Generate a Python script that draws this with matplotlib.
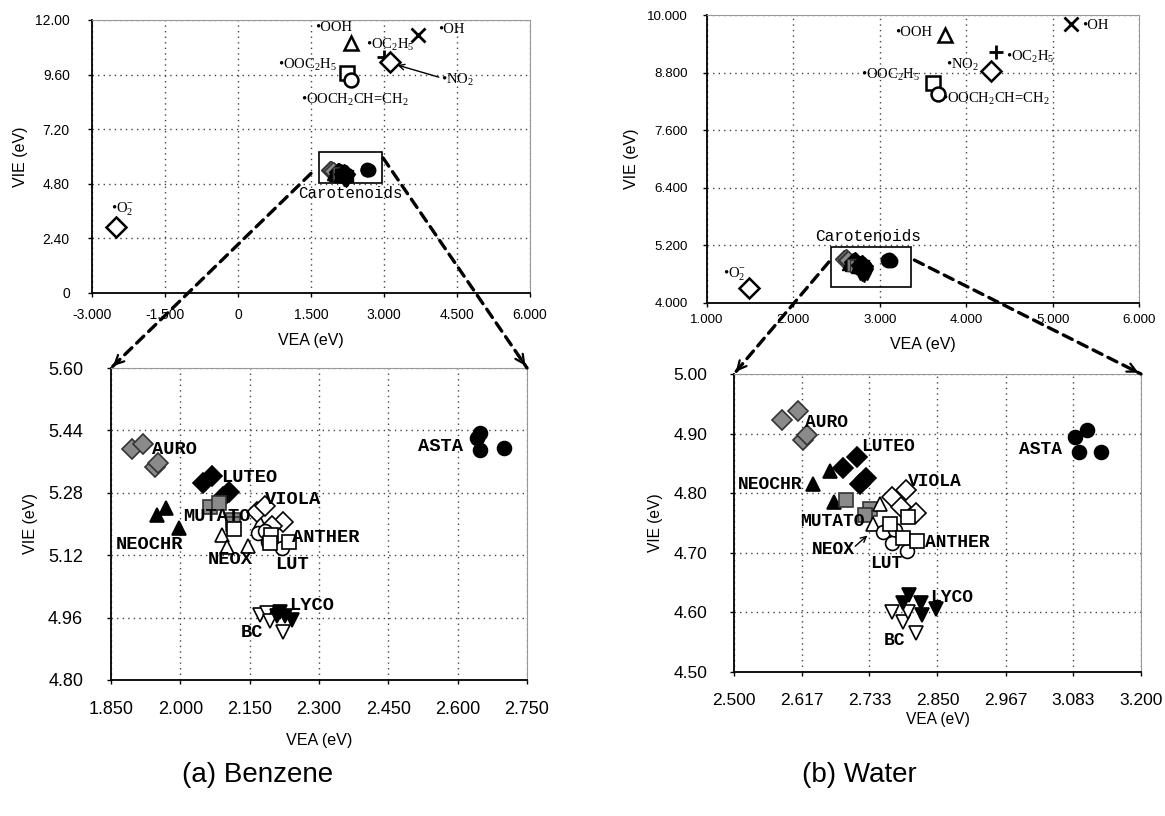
import numpy as np
import matplotlib
matplotlib.use("Agg")
import matplotlib.pyplot as plt
from matplotlib.patches import ConnectionPatch, FancyArrowPatch, Rectangle

plt.rcParams['font.family'] = ['Liberation Sans', 'DejaVu Sans']
plt.rcParams['mathtext.fontset'] = 'custom'
plt.rcParams['mathtext.rm'] = 'Liberation Serif'
plt.rcParams['mathtext.it'] = 'Liberation Serif:italic'
plt.rcParams['mathtext.bf'] = 'Liberation Serif:bold'

# ---- free radicals ----
rad_labels = ["•O$_2^{-}$", "•OOH", "•OH", "•OC$_2$H$_5$", "•NO$_2$",
              "•OOC$_2$H$_5$", "•OOCH$_2$CH=CH$_2$"]
rad_vea_benz = [-2.50, 2.33, 3.70, 2.99, 3.12, 2.24, 2.32]
rad_vie_benz = [2.90, 10.97, 11.34, 10.35, 10.16, 9.67, 9.35]
rad_vea_water = [1.49, 3.76, 5.21, 4.34, 4.29, 3.62, 3.67]
rad_vie_water = [4.31, 9.58, 9.81, 9.22, 8.84, 8.58, 8.35]

# ---- carotenoids ----
carot_names = ["ASTA", "AURO", "LUTEO", "NEOCHR", "MUTATO", "NEOX",
               "VIOLA", "LUT", "ANTHER", "BC", "LYCO"]
benz_vea = [[2.649, 2.642, 2.648, 2.700],
            [1.895, 1.920, 1.945, 1.952],
            [2.050, 2.068, 2.093, 2.105],
            [1.949, 1.969, 1.998],
            [2.064, 2.084, 2.113, 2.113],
            [2.090, 2.100, 2.147, 2.173],
            [2.165, 2.183, 2.222, 2.198],
            [2.169, 2.183, 2.190, 2.219],
            [2.115, 2.196, 2.193, 2.234],
            [2.173, 2.188, 2.193, 2.223],
            [2.216, 2.227, 2.241, 2.209]]
benz_vie = [[5.433, 5.420, 5.390, 5.395],
            [5.392, 5.405, 5.346, 5.356],
            [5.305, 5.322, 5.270, 5.283],
            [5.224, 5.241, 5.189],
            [5.243, 5.255, 5.209, 5.200],
            [5.172, 5.142, 5.144, 5.202],
            [5.232, 5.247, 5.204, 5.194],
            [5.178, 5.181, 5.155, 5.138],
            [5.187, 5.172, 5.151, 5.153],
            [4.967, 4.971, 4.950, 4.924],
            [4.975, 4.963, 4.954, 4.963]]
water_vea = [[3.087, 3.107, 3.094, 3.131],
             [2.583, 2.610, 2.618, 2.626],
             [2.688, 2.711, 2.727, 2.716],
             [2.636, 2.666, 2.672],
             [2.693, 2.734, 2.726],
             [2.752, 2.739, 2.771],
             [2.771, 2.796, 2.787, 2.813],
             [2.757, 2.777, 2.772, 2.798],
             [2.769, 2.800, 2.791, 2.815],
             [2.771, 2.791, 2.813, 2.800],
             [2.801, 2.822, 2.848, 2.824, 2.791]]
water_vie = [[4.894, 4.906, 4.869, 4.869],
             [4.922, 4.938, 4.890, 4.898],
             [4.842, 4.861, 4.826, 4.816],
             [4.815, 4.838, 4.786],
             [4.788, 4.773, 4.763],
             [4.782, 4.749, 4.738],
             [4.794, 4.806, 4.777, 4.766],
             [4.735, 4.738, 4.717, 4.703],
             [4.749, 4.760, 4.724, 4.720],
             [4.601, 4.584, 4.566, 4.601],
             [4.629, 4.616, 4.605, 4.595, 4.615]]

# ---- ticks ----
tl_xlabels = ["-3.000", "-1.500", "0", "1.500", "3.000", "4.500", "6.000"]
tl_ylabels = ["0", "2.40", "4.80", "7.20", "9.60", "12.00"]
tr_xlabels = ["1.000", "2.000", "3.000", "4.000", "5.000", "6.000"]
tr_ylabels = ["4.000", "5.200", "6.400", "7.600", "8.800", "10.000"]
bl_xlabels = ["1.850", "2.000", "2.150", "2.300", "2.450", "2.600", "2.750"]
bl_ylabels = ["4.80", "4.96", "5.12", "5.28", "5.44", "5.60"]
br_xlabels = ["2.500", "2.617", "2.733", "2.850", "2.967", "3.083", "3.200"]
br_ylabels = ["4.50", "4.60", "4.70", "4.80", "4.90", "5.00"]

# styles
rad_markers = ["D", "^", "x", "+", "D", "s", "o"]
carot_markers = ["o", "D", "D", "^", "s", "^", "D", "o", "s", "v", "v"]
carot_faces = ["black", "#8a8a8a", "black", "black", "#8a8a8a", "white",
               "white", "white", "white", "white", "black"]

# label layout (left x, centre y, data units)
rad_lab_benz = [(-2.62, 3.68), (1.58, 11.65), (4.12, 11.58), (2.62, 10.9),
                (4.18, 9.38), (0.82, 10.02), (1.30, 8.47)]
rad_lab_water = [(1.18, 4.60), (3.18, 9.64), (5.34, 9.79), (4.46, 9.12),
                 (3.77, 8.95), (2.78, 8.75), (3.72, 8.24)]
carot_lab_benz = [(2.515, 5.40), (1.938, 5.39), (2.088, 5.32), (1.86, 5.147),
                  (2.006, 5.22), (2.06, 5.108), (2.184, 5.262), (2.205, 5.095),
                  (2.241, 5.165), (2.131, 4.921), (2.236, 4.99)]
carot_lab_water = [(2.99, 4.873), (2.622, 4.918), (2.719, 4.878), (2.507, 4.815),
                   (2.614, 4.753), (2.634, 4.705), (2.80, 4.819), (2.734, 4.682),
                   (2.828, 4.718), (2.757, 4.553), (2.838, 4.625)]


def style_axes(ax, xlabels, ylabels, fs, labfs, xpad, ypad, xlp, ylp):
    xt = [float(s) for s in xlabels]
    yt = [float(s) for s in ylabels]
    ax.set_xlim(xt[0], xt[-1])
    ax.set_ylim(yt[0], yt[-1])
    ax.set_xticks(xt)
    ax.set_xticklabels(xlabels, fontsize=fs)
    ax.set_yticks(yt)
    ax.set_yticklabels(ylabels, fontsize=fs)
    ax.grid(True, linestyle=(0, (1, 3)), color="#444444", lw=1)
    ax.tick_params(axis="x", direction="out", length=3, width=1, pad=xpad)
    ax.tick_params(axis="y", direction="out", length=3, width=1, pad=ypad)
    for s in ["top", "right"]:
        ax.spines[s].set_color("#999999")
    for s in ["left", "bottom"]:
        ax.spines[s].set_linewidth(1.3)
    ax.set_axisbelow(True)
    ax.set_xlabel("VEA (eV)", fontsize=labfs, labelpad=xlp)
    ax.set_ylabel("VIE (eV)", fontsize=labfs, labelpad=ylp)


def plot_radicals(ax, vea, vie, labs):
    for i in range(len(vea)):
        m = rad_markers[i]
        if m in ("x", "+"):
            ax.plot(vea[i], vie[i], m, color="black", ms=10, mew=2)
        else:
            ax.plot(vea[i], vie[i], m, mfc="white", mec="black", ms=10, mew=1.8)
        ax.text(labs[i][0], labs[i][1], rad_labels[i], fontsize=10.5,
                family="Liberation Serif", va="center", ha="left")


def plot_carot(ax, vea, vie, ms, mew, solid=False):
    for i in range(len(carot_names)):
        face = carot_faces[i]
        if solid and face == "white":
            face = "black"
        edge = "#333333" if face == "#8a8a8a" else "black"
        ax.plot(vea[i], vie[i], carot_markers[i], mfc=face, mec=edge,
                ms=ms, mew=mew, ls="none")


def carot_labels(ax, labs, fs):
    for i in range(len(carot_names)):
        ax.text(labs[i][0], labs[i][1], carot_names[i], fontsize=fs,
                family="Liberation Mono", weight="bold", va="center", ha="left")


def dashed_arrow(fig, axA, pA, axB, pB):
    con = ConnectionPatch(xyA=pA, coordsA=axA.transData, xyB=pB,
                          coordsB=axB.transData, linestyle=(0, (3, 2)),
                          lw=2.4, color="black")
    fig.add_artist(con)
    a = axA.transData.transform(pA)
    b = axB.transData.transform(pB)
    d = (b - a) / np.linalg.norm(b - a)
    tail = fig.transFigure.inverted().transform(b - d * 14)
    head = fig.transFigure.inverted().transform(b)
    fig.add_artist(FancyArrowPatch(tail, head, transform=fig.transFigure,
                                   arrowstyle="->", mutation_scale=16, lw=1.6,
                                   color="black"))


fig = plt.figure(figsize=(11.65, 8.16), dpi=100)
ax1 = fig.add_axes([0.0790, 0.6413, 0.3760, 0.3342])
ax2 = fig.add_axes([0.6069, 0.6290, 0.3708, 0.3526])
ax3 = fig.add_axes([0.0953, 0.1667, 0.3571, 0.3823])
ax4 = fig.add_axes([0.6300, 0.1765, 0.3494, 0.3652])

style_axes(ax1, tl_xlabels, tl_ylabels, 10, 11.5, 8, 13, 8, 5)
style_axes(ax2, tr_xlabels, tr_ylabels, 9.6, 11.5, 5, 11, 8, 6)
style_axes(ax3, bl_xlabels, bl_ylabels, 13, 11.6, 12, 17, 11, 7)
style_axes(ax4, br_xlabels, br_ylabels, 12.5, 11.2, 12, 16, 3, 8)

# (a) benzene
plot_radicals(ax1, rad_vea_benz, rad_vie_benz, rad_lab_benz)
plot_carot(ax1, benz_vea, benz_vie, 9, 1, solid=True)
ax1.add_patch(Rectangle((1.66, 4.83), 1.30, 1.36, fill=False, lw=1.2))
ax1.text(1.23, 4.38, "Carotenoids", fontsize=11.3, family="Liberation Mono",
         va="center", ha="left")
ax1.annotate("", xy=(3.22, 10.05), xytext=(4.18, 9.45),
             arrowprops=dict(arrowstyle="->", lw=1, color="black"))
plot_carot(ax3, benz_vea, benz_vie, 10, 1.2)
carot_labels(ax3, carot_lab_benz, 13.5)

# (b) water
plot_radicals(ax2, rad_vea_water, rad_vie_water, rad_lab_water)
plot_carot(ax2, water_vea, water_vie, 9, 1, solid=True)
ax2.add_patch(Rectangle((2.43, 4.33), 0.93, 0.84, fill=False, lw=1.2))
ax2.text(2.25, 5.38, "Carotenoids", fontsize=11.6, family="Liberation Mono",
         va="center", ha="left")
plot_carot(ax4, water_vea, water_vie, 10, 1.2)
carot_labels(ax4, carot_lab_water, 13)
ax4.annotate("", xy=(2.733, 4.732), xytext=(2.705, 4.708),
             arrowprops=dict(arrowstyle="->", lw=1, color="black"))

dashed_arrow(fig, ax1, (1.50, 5.25), ax3, (1.85, 5.60))
dashed_arrow(fig, ax1, (2.98, 5.93), ax3, (2.75, 5.60))
dashed_arrow(fig, ax2, (2.41, 4.85), ax4, (2.50, 5.00))
dashed_arrow(fig, ax2, (3.40, 4.89), ax4, (3.20, 5.00))

fig.text(0.2215, 0.050, "(a) Benzene", fontsize=20, ha="center", va="center")
fig.text(0.738, 0.050, "(b) Water", fontsize=20, ha="center", va="center")

fig.savefig("out.png", dpi=100)
